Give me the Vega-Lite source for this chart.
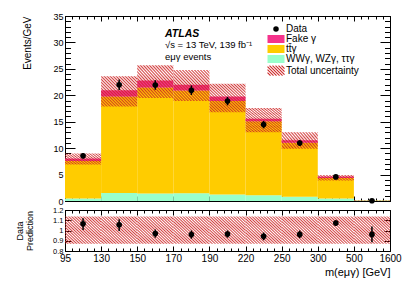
{
  "$schema": "https://vega.github.io/schema/vega-lite/v6.json",
  "padding": {"left": 15, "top": 11, "right": 5, "bottom": 5},
  "background": "white",
  "bounds": "flush",
  "spacing": 9,
  "datasets": {
    "comp": [
      {"bin": 0, "b0": 0, "b1": 1, "comp": "WWγ, WZγ, ττγ", "ord": 1, "val": 0.45},
      {"bin": 1, "b0": 1, "b1": 2, "comp": "WWγ, WZγ, ττγ", "ord": 1, "val": 1.5},
      {"bin": 2, "b0": 2, "b1": 3, "comp": "WWγ, WZγ, ττγ", "ord": 1, "val": 1.4},
      {"bin": 3, "b0": 3, "b1": 4, "comp": "WWγ, WZγ, ττγ", "ord": 1, "val": 1.45},
      {"bin": 4, "b0": 4, "b1": 5, "comp": "WWγ, WZγ, ττγ", "ord": 1, "val": 1.25},
      {"bin": 5, "b0": 5, "b1": 6, "comp": "WWγ, WZγ, ττγ", "ord": 1, "val": 1.1},
      {"bin": 6, "b0": 6, "b1": 7, "comp": "WWγ, WZγ, ττγ", "ord": 1, "val": 0.8},
      {"bin": 7, "b0": 7, "b1": 8, "comp": "WWγ, WZγ, ττγ", "ord": 1, "val": 0.45},
      {"bin": 8, "b0": 8, "b1": 9, "comp": "WWγ, WZγ, ττγ", "ord": 1, "val": 0.08},
      {"bin": 0, "b0": 0, "b1": 1, "comp": "tt̄γ", "ord": 2, "val": 7.1},
      {"bin": 1, "b0": 1, "b1": 2, "comp": "tt̄γ", "ord": 2, "val": 18.25},
      {"bin": 2, "b0": 2, "b1": 3, "comp": "tt̄γ", "ord": 2, "val": 20.05},
      {"bin": 3, "b0": 3, "b1": 4, "comp": "tt̄γ", "ord": 2, "val": 19.45},
      {"bin": 4, "b0": 4, "b1": 5, "comp": "tt̄γ", "ord": 2, "val": 17.65},
      {"bin": 5, "b0": 5, "b1": 6, "comp": "tt̄γ", "ord": 2, "val": 14.0},
      {"bin": 6, "b0": 6, "b1": 7, "comp": "tt̄γ", "ord": 2, "val": 10.2},
      {"bin": 7, "b0": 7, "b1": 8, "comp": "tt̄γ", "ord": 2, "val": 3.9},
      {"bin": 8, "b0": 8, "b1": 9, "comp": "tt̄γ", "ord": 2, "val": 0.05},
      {"bin": 0, "b0": 0, "b1": 1, "comp": "Fake γ", "ord": 3, "val": 0.5},
      {"bin": 1, "b0": 1, "b1": 2, "comp": "Fake γ", "ord": 3, "val": 1.2},
      {"bin": 2, "b0": 2, "b1": 3, "comp": "Fake γ", "ord": 3, "val": 1.35},
      {"bin": 3, "b0": 3, "b1": 4, "comp": "Fake γ", "ord": 3, "val": 1.1},
      {"bin": 4, "b0": 4, "b1": 5, "comp": "Fake γ", "ord": 3, "val": 0.85},
      {"bin": 5, "b0": 5, "b1": 6, "comp": "Fake γ", "ord": 3, "val": 0.45},
      {"bin": 6, "b0": 6, "b1": 7, "comp": "Fake γ", "ord": 3, "val": 0.5},
      {"bin": 7, "b0": 7, "b1": 8, "comp": "Fake γ", "ord": 3, "val": 0.3},
      {"bin": 8, "b0": 8, "b1": 9, "comp": "Fake γ", "ord": 3, "val": 0.02}
    ],
    "bins": [
      {"bin": 0, "b0": 0, "b1": 1, "xc": 0.5, "lo": 6.9, "hi": 9.0, "data": 8.55, "dlo": 8.05, "dhi": 9.05, "ratio": 1.065, "rdlo": 1.005, "rdhi": 1.12, "rlo": 0.87, "rhi": 1.137},
      {"bin": 1, "b0": 1, "b1": 2, "xc": 1.5, "lo": 17.9, "hi": 23.6, "data": 22.0, "dlo": 21.0, "dhi": 23.0, "ratio": 1.055, "rdlo": 0.995, "rdhi": 1.11, "rlo": 0.87, "rhi": 1.137},
      {"bin": 2, "b0": 2, "b1": 3, "xc": 2.5, "lo": 19.5, "hi": 25.7, "data": 21.95, "dlo": 21.05, "dhi": 22.85, "ratio": 0.97, "rdlo": 0.93, "rdhi": 1.01, "rlo": 0.87, "rhi": 1.137},
      {"bin": 3, "b0": 3, "b1": 4, "xc": 3.5, "lo": 18.9, "hi": 24.8, "data": 20.95, "dlo": 20.05, "dhi": 21.85, "ratio": 0.96, "rdlo": 0.92, "rdhi": 1.0, "rlo": 0.87, "rhi": 1.137},
      {"bin": 4, "b0": 4, "b1": 5, "xc": 4.5, "lo": 16.8, "hi": 22.2, "data": 18.9, "dlo": 18.1, "dhi": 19.7, "ratio": 0.965, "rdlo": 0.93, "rdhi": 1.0, "rlo": 0.87, "rhi": 1.137},
      {"bin": 5, "b0": 5, "b1": 6, "xc": 5.5, "lo": 13.0, "hi": 17.6, "data": 14.45, "dlo": 13.75, "dhi": 15.15, "ratio": 0.943, "rdlo": 0.905, "rdhi": 0.98, "rlo": 0.87, "rhi": 1.137},
      {"bin": 6, "b0": 6, "b1": 7, "xc": 6.5, "lo": 9.9, "hi": 13.0, "data": 10.95, "dlo": 10.4, "dhi": 11.5, "ratio": 0.962, "rdlo": 0.925, "rdhi": 1.0, "rlo": 0.87, "rhi": 1.137},
      {"bin": 7, "b0": 7, "b1": 8, "xc": 7.5, "lo": 3.9, "hi": 4.9, "data": 4.55, "dlo": 4.25, "dhi": 4.85, "ratio": 1.073, "rdlo": 1.045, "rdhi": 1.1, "rlo": 0.87, "rhi": 1.137},
      {"bin": 8, "b0": 8, "b1": 9, "xc": 8.5, "lo": 0.11, "hi": 0.17, "data": 0.05, "dlo": 0.0, "dhi": 0.1, "ratio": 0.962, "rdlo": 0.885, "rdhi": 1.04, "rlo": 0.87, "rhi": 1.137}
    ]
  },
  "vconcat": [
    {
      "width": 325,
      "height": 185,
      "title": {
        "text": "ATLAS",
        "subtitle": ["√s = 13 TeV, 139 fb⁻¹", "eμγ events"],
        "anchor": "start", "frame": "group", "orient": "top", "offset": 0,
        "dx": 100, "dy": 49,
        "font": "Liberation Sans", "fontSize": 10.5, "fontStyle": "italic", "fontWeight": "bold", "color": "black",
        "subtitleFont": "Liberation Sans", "subtitleFontSize": 9.5, "subtitleColor": "black",
        "subtitlePadding": 1, "subtitleLineHeight": 11.5
      },
      "layer": [
        {
          "data": {"name": "comp"},
          "transform": [{"stack": "val", "groupby": ["bin"], "sort": [{"field": "ord"}], "as": ["s0", "s1"]}],
          "mark": {"type": "rect", "strokeWidth": 0},
          "encoding": {
            "x": {"field": "b0", "type": "quantitative", "scale": {"domain": [0, 9], "nice": false, "zero": false},
                  "axis": {"orient": "bottom", "values": [0,1,2,3,4,5,6,7,8,9], "labels": false, "title": null, "tickSize": -5}},
            "x2": {"field": "b1"},
            "y": {"field": "s0", "type": "quantitative", "scale": {"domain": [0, 35], "nice": false, "zero": false},
                  "axis": {"orient": "left", "values": [0,5,10,15,20,25,30,35], "format": "d", "ticks": false, "tickSize": 0,
                           "labelFontSize": 9, "labelPadding": 2, "title": "Events/GeV", "titleAnchor": "end",
                           "titleFontSize": 10, "titlePadding": 20}},
            "y2": {"field": "s1"},
            "color": {
              "field": "comp", "type": "nominal",
              "scale": {"domain": ["Data", "Fake γ", "tt̄γ", "WWγ, WZγ, ττγ", "Total uncertainty"],
                        "range": ["#000000", "#f5338c", "#ffcc00", "#99ffcc", "#ffffff"]},
              "legend": {
                "orient": "none", "legendX": 206, "legendY": 8, "title": null,
                "labelFont": "Liberation Sans", "labelFontSize": 10, "labelColor": "black", "labelOffset": 5,
                "labelLimit": 300, "rowPadding": -1.4,
                "symbolSize": 289, "symbolType": "M-1,-0.47H1V0.47H-1Z", "symbolStrokeWidth": 0,
                "encode": {"symbols": {"update": {
                  "shape": {"signal": "datum.value === 'Data' ? 'circle' : datum.value === 'Total uncertainty' ? 'M0.647,-0.59L1,-0.237M0.294,-0.59L1,0.116M-0.059,-0.59L1,0.469M-0.412,-0.59L0.768,0.59M-0.765,-0.59L0.415,0.59M-1,-0.472L0.062,0.59M-1,-0.119L-0.291,0.59M-1,0.234L-0.644,0.59' : 'M-1,-0.47H1V0.47H-1Z'"},
                  "size": {"signal": "datum.value === 'Data' ? 30 : 289"},
                  "stroke": {"value": "#cd2828"},
                  "strokeWidth": {"signal": "datum.value === 'Total uncertainty' ? 1.1 : 0"},
                  "opacity": {"value": 1}
                }}}
              }
            }
          }
        },
        {
          "data": {"name": "bins"},
          "transform": [{"filter": {"field": "bin", "oneOf": [1, 2, 3, 4, 5]}}],
          "mark": {"type": "rect", "strokeWidth": 0, "fill": {"gradient": "linear", "x1": 0, "y1": 1, "x2": 1.0834, "y2": 0.0997, "stops": [
            {"offset": 0, "color": "rgba(205,35,35,0.85)"}, {"offset": 0.0227, "color": "rgba(205,35,35,0)"},
            {"offset": 0.0455, "color": "rgba(205,35,35,0.85)"}, {"offset": 0.0682, "color": "rgba(205,35,35,0)"},
            {"offset": 0.0909, "color": "rgba(205,35,35,0.85)"}, {"offset": 0.1136, "color": "rgba(205,35,35,0)"},
            {"offset": 0.1364, "color": "rgba(205,35,35,0.85)"}, {"offset": 0.1591, "color": "rgba(205,35,35,0)"},
            {"offset": 0.1818, "color": "rgba(205,35,35,0.85)"}, {"offset": 0.2045, "color": "rgba(205,35,35,0)"},
            {"offset": 0.2273, "color": "rgba(205,35,35,0.85)"}, {"offset": 0.25, "color": "rgba(205,35,35,0)"},
            {"offset": 0.2727, "color": "rgba(205,35,35,0.85)"}, {"offset": 0.2955, "color": "rgba(205,35,35,0)"},
            {"offset": 0.3182, "color": "rgba(205,35,35,0.85)"}, {"offset": 0.3409, "color": "rgba(205,35,35,0)"},
            {"offset": 0.3636, "color": "rgba(205,35,35,0.85)"}, {"offset": 0.3864, "color": "rgba(205,35,35,0)"},
            {"offset": 0.4091, "color": "rgba(205,35,35,0.85)"}, {"offset": 0.4318, "color": "rgba(205,35,35,0)"},
            {"offset": 0.4545, "color": "rgba(205,35,35,0.85)"}, {"offset": 0.4773, "color": "rgba(205,35,35,0)"},
            {"offset": 0.5, "color": "rgba(205,35,35,0.85)"}, {"offset": 0.5227, "color": "rgba(205,35,35,0)"},
            {"offset": 0.5455, "color": "rgba(205,35,35,0.85)"}, {"offset": 0.5682, "color": "rgba(205,35,35,0)"},
            {"offset": 0.5909, "color": "rgba(205,35,35,0.85)"}, {"offset": 0.6136, "color": "rgba(205,35,35,0)"},
            {"offset": 0.6364, "color": "rgba(205,35,35,0.85)"}, {"offset": 0.6591, "color": "rgba(205,35,35,0)"},
            {"offset": 0.6818, "color": "rgba(205,35,35,0.85)"}, {"offset": 0.7045, "color": "rgba(205,35,35,0)"},
            {"offset": 0.7273, "color": "rgba(205,35,35,0.85)"}, {"offset": 0.75, "color": "rgba(205,35,35,0)"},
            {"offset": 0.7727, "color": "rgba(205,35,35,0.85)"}, {"offset": 0.7955, "color": "rgba(205,35,35,0)"},
            {"offset": 0.8182, "color": "rgba(205,35,35,0.85)"}, {"offset": 0.8409, "color": "rgba(205,35,35,0)"},
            {"offset": 0.8636, "color": "rgba(205,35,35,0.85)"}, {"offset": 0.8864, "color": "rgba(205,35,35,0)"},
            {"offset": 0.9091, "color": "rgba(205,35,35,0.85)"}, {"offset": 0.9318, "color": "rgba(205,35,35,0)"},
            {"offset": 0.9545, "color": "rgba(205,35,35,0.85)"}, {"offset": 0.9773, "color": "rgba(205,35,35,0)"},
            {"offset": 1, "color": "rgba(205,35,35,0.85)"}]}},
          "encoding": {
            "x": {"field": "b0", "type": "quantitative",
                  "axis": {"orient": "bottom", "values": [0,0.2,0.4,0.6,0.8,1,1.2,1.4,1.6,1.8,2,2.2,2.4,2.6,2.8,3,3.2,3.4,3.6,3.8,4,4.2,4.4,4.6,4.8,5,5.2,5.4,5.6,5.8,6,6.2,6.4,6.6,6.8,7,7.2,7.4,7.6,7.8,8,8.2,8.4,8.6,8.8,9], "labels": false, "title": null, "tickSize": -3}},
            "x2": {"field": "b1"},
            "y": {"field": "lo", "type": "quantitative",
                  "axis": {"orient": "left", "values": [0,5,10,15,20,25,30,35], "labels": false, "title": null, "tickSize": -10}},
            "y2": {"field": "hi"}
          }
        },
        {
          "data": {"name": "bins"},
          "transform": [{"filter": {"field": "bin", "oneOf": [0, 6]}}],
          "mark": {"type": "rect", "strokeWidth": 0, "fill": {"gradient": "linear", "x1": 0, "y1": 1, "x2": 1.2065, "y2": 0.532, "stops": [
            {"offset": 0, "color": "rgba(205,35,35,0.85)"}, {"offset": 0.0294, "color": "rgba(205,35,35,0)"},
            {"offset": 0.0588, "color": "rgba(205,35,35,0.85)"}, {"offset": 0.0882, "color": "rgba(205,35,35,0)"},
            {"offset": 0.1176, "color": "rgba(205,35,35,0.85)"}, {"offset": 0.1471, "color": "rgba(205,35,35,0)"},
            {"offset": 0.1765, "color": "rgba(205,35,35,0.85)"}, {"offset": 0.2059, "color": "rgba(205,35,35,0)"},
            {"offset": 0.2353, "color": "rgba(205,35,35,0.85)"}, {"offset": 0.2647, "color": "rgba(205,35,35,0)"},
            {"offset": 0.2941, "color": "rgba(205,35,35,0.85)"}, {"offset": 0.3235, "color": "rgba(205,35,35,0)"},
            {"offset": 0.3529, "color": "rgba(205,35,35,0.85)"}, {"offset": 0.3824, "color": "rgba(205,35,35,0)"},
            {"offset": 0.4118, "color": "rgba(205,35,35,0.85)"}, {"offset": 0.4412, "color": "rgba(205,35,35,0)"},
            {"offset": 0.4706, "color": "rgba(205,35,35,0.85)"}, {"offset": 0.5, "color": "rgba(205,35,35,0)"},
            {"offset": 0.5294, "color": "rgba(205,35,35,0.85)"}, {"offset": 0.5588, "color": "rgba(205,35,35,0)"},
            {"offset": 0.5882, "color": "rgba(205,35,35,0.85)"}, {"offset": 0.6176, "color": "rgba(205,35,35,0)"},
            {"offset": 0.6471, "color": "rgba(205,35,35,0.85)"}, {"offset": 0.6765, "color": "rgba(205,35,35,0)"},
            {"offset": 0.7059, "color": "rgba(205,35,35,0.85)"}, {"offset": 0.7353, "color": "rgba(205,35,35,0)"},
            {"offset": 0.7647, "color": "rgba(205,35,35,0.85)"}, {"offset": 0.7941, "color": "rgba(205,35,35,0)"},
            {"offset": 0.8235, "color": "rgba(205,35,35,0.85)"}, {"offset": 0.8529, "color": "rgba(205,35,35,0)"},
            {"offset": 0.8824, "color": "rgba(205,35,35,0.85)"}, {"offset": 0.9118, "color": "rgba(205,35,35,0)"},
            {"offset": 0.9412, "color": "rgba(205,35,35,0.85)"}, {"offset": 0.9706, "color": "rgba(205,35,35,0)"},
            {"offset": 1, "color": "rgba(205,35,35,0.85)"}]}},
          "encoding": {
            "x": {"field": "b0", "type": "quantitative",
                  "axis": {"orient": "top", "values": [0,1,2,3,4,5,6,7,8,9], "labels": false, "title": null, "tickSize": -5}},
            "x2": {"field": "b1"},
            "y": {"field": "lo", "type": "quantitative",
                  "axis": {"orient": "left", "values": [0,1,2,3,4,5,6,7,8,9,10,11,12,13,14,15,16,17,18,19,20,21,22,23,24,25,26,27,28,29,30,31,32,33,34,35], "labels": false, "title": null, "tickSize": -5.5}},
            "y2": {"field": "hi"}
          }
        },
        {
          "data": {"name": "bins"},
          "transform": [{"filter": {"field": "bin", "oneOf": [7, 8]}}],
          "mark": {"type": "rect", "strokeWidth": 0, "fill": {"gradient": "linear", "x1": 0, "y1": 1, "x2": 1.1447, "y2": 0.79, "stops": [
            {"offset": 0, "color": "rgba(205,35,35,0.85)"}, {"offset": 0.0357, "color": "rgba(205,35,35,0)"},
            {"offset": 0.0714, "color": "rgba(205,35,35,0.85)"}, {"offset": 0.1071, "color": "rgba(205,35,35,0)"},
            {"offset": 0.1429, "color": "rgba(205,35,35,0.85)"}, {"offset": 0.1786, "color": "rgba(205,35,35,0)"},
            {"offset": 0.2143, "color": "rgba(205,35,35,0.85)"}, {"offset": 0.25, "color": "rgba(205,35,35,0)"},
            {"offset": 0.2857, "color": "rgba(205,35,35,0.85)"}, {"offset": 0.3214, "color": "rgba(205,35,35,0)"},
            {"offset": 0.3571, "color": "rgba(205,35,35,0.85)"}, {"offset": 0.3929, "color": "rgba(205,35,35,0)"},
            {"offset": 0.4286, "color": "rgba(205,35,35,0.85)"}, {"offset": 0.4643, "color": "rgba(205,35,35,0)"},
            {"offset": 0.5, "color": "rgba(205,35,35,0.85)"}, {"offset": 0.5357, "color": "rgba(205,35,35,0)"},
            {"offset": 0.5714, "color": "rgba(205,35,35,0.85)"}, {"offset": 0.6071, "color": "rgba(205,35,35,0)"},
            {"offset": 0.6429, "color": "rgba(205,35,35,0.85)"}, {"offset": 0.6786, "color": "rgba(205,35,35,0)"},
            {"offset": 0.7143, "color": "rgba(205,35,35,0.85)"}, {"offset": 0.75, "color": "rgba(205,35,35,0)"},
            {"offset": 0.7857, "color": "rgba(205,35,35,0.85)"}, {"offset": 0.8214, "color": "rgba(205,35,35,0)"},
            {"offset": 0.8571, "color": "rgba(205,35,35,0.85)"}, {"offset": 0.8929, "color": "rgba(205,35,35,0)"},
            {"offset": 0.9286, "color": "rgba(205,35,35,0.85)"}, {"offset": 0.9643, "color": "rgba(205,35,35,0)"},
            {"offset": 1, "color": "rgba(205,35,35,0.85)"}]}},
          "encoding": {
            "x": {"field": "b0", "type": "quantitative",
                  "axis": {"orient": "top", "values": [0,0.2,0.4,0.6,0.8,1,1.2,1.4,1.6,1.8,2,2.2,2.4,2.6,2.8,3,3.2,3.4,3.6,3.8,4,4.2,4.4,4.6,4.8,5,5.2,5.4,5.6,5.8,6,6.2,6.4,6.6,6.8,7,7.2,7.4,7.6,7.8,8,8.2,8.4,8.6,8.8,9], "labels": false, "title": null, "tickSize": -3}},
            "x2": {"field": "b1"},
            "y": {"field": "lo", "type": "quantitative",
                  "axis": {"orient": "right", "values": [0,5,10,15,20,25,30,35], "labels": false, "title": null, "tickSize": -10}},
            "y2": {"field": "hi"}
          }
        },
        {
          "data": {"name": "bins"},
          "mark": {"type": "rule", "strokeWidth": 1.5, "color": "black"},
          "encoding": {
            "x": {"field": "xc", "type": "quantitative", "axis": null},
            "y": {"field": "dlo", "type": "quantitative",
                  "axis": {"orient": "right", "values": [0,1,2,3,4,5,6,7,8,9,10,11,12,13,14,15,16,17,18,19,20,21,22,23,24,25,26,27,28,29,30,31,32,33,34,35], "labels": false, "title": null, "tickSize": -5.5}},
            "y2": {"field": "dhi"}
          }
        },
        {
          "data": {"name": "bins"},
          "mark": {"type": "point", "shape": "circle", "filled": true, "size": 32, "color": "black", "opacity": 1},
          "encoding": {
            "x": {"field": "xc", "type": "quantitative", "axis": null},
            "y": {"field": "data", "type": "quantitative", "axis": null}
          }
        }
      ],
      "resolve": {"axis": {"x": "independent", "y": "independent"}}
    },
    {
      "width": 325,
      "height": 41,
      "layer": [
        {
          "data": {"name": "bins"},
          "mark": {"type": "rect", "strokeWidth": 0, "fill": {"gradient": "linear", "x1": 0, "y1": 1, "x2": 1.0976, "y2": 0.122, "stops": [
            {"offset": 0, "color": "rgba(205,35,35,0.85)"}, {"offset": 0.0227, "color": "rgba(205,35,35,0)"},
            {"offset": 0.0455, "color": "rgba(205,35,35,0.85)"}, {"offset": 0.0682, "color": "rgba(205,35,35,0)"},
            {"offset": 0.0909, "color": "rgba(205,35,35,0.85)"}, {"offset": 0.1136, "color": "rgba(205,35,35,0)"},
            {"offset": 0.1364, "color": "rgba(205,35,35,0.85)"}, {"offset": 0.1591, "color": "rgba(205,35,35,0)"},
            {"offset": 0.1818, "color": "rgba(205,35,35,0.85)"}, {"offset": 0.2045, "color": "rgba(205,35,35,0)"},
            {"offset": 0.2273, "color": "rgba(205,35,35,0.85)"}, {"offset": 0.25, "color": "rgba(205,35,35,0)"},
            {"offset": 0.2727, "color": "rgba(205,35,35,0.85)"}, {"offset": 0.2955, "color": "rgba(205,35,35,0)"},
            {"offset": 0.3182, "color": "rgba(205,35,35,0.85)"}, {"offset": 0.3409, "color": "rgba(205,35,35,0)"},
            {"offset": 0.3636, "color": "rgba(205,35,35,0.85)"}, {"offset": 0.3864, "color": "rgba(205,35,35,0)"},
            {"offset": 0.4091, "color": "rgba(205,35,35,0.85)"}, {"offset": 0.4318, "color": "rgba(205,35,35,0)"},
            {"offset": 0.4545, "color": "rgba(205,35,35,0.85)"}, {"offset": 0.4773, "color": "rgba(205,35,35,0)"},
            {"offset": 0.5, "color": "rgba(205,35,35,0.85)"}, {"offset": 0.5227, "color": "rgba(205,35,35,0)"},
            {"offset": 0.5455, "color": "rgba(205,35,35,0.85)"}, {"offset": 0.5682, "color": "rgba(205,35,35,0)"},
            {"offset": 0.5909, "color": "rgba(205,35,35,0.85)"}, {"offset": 0.6136, "color": "rgba(205,35,35,0)"},
            {"offset": 0.6364, "color": "rgba(205,35,35,0.85)"}, {"offset": 0.6591, "color": "rgba(205,35,35,0)"},
            {"offset": 0.6818, "color": "rgba(205,35,35,0.85)"}, {"offset": 0.7045, "color": "rgba(205,35,35,0)"},
            {"offset": 0.7273, "color": "rgba(205,35,35,0.85)"}, {"offset": 0.75, "color": "rgba(205,35,35,0)"},
            {"offset": 0.7727, "color": "rgba(205,35,35,0.85)"}, {"offset": 0.7955, "color": "rgba(205,35,35,0)"},
            {"offset": 0.8182, "color": "rgba(205,35,35,0.85)"}, {"offset": 0.8409, "color": "rgba(205,35,35,0)"},
            {"offset": 0.8636, "color": "rgba(205,35,35,0.85)"}, {"offset": 0.8864, "color": "rgba(205,35,35,0)"},
            {"offset": 0.9091, "color": "rgba(205,35,35,0.85)"}, {"offset": 0.9318, "color": "rgba(205,35,35,0)"},
            {"offset": 0.9545, "color": "rgba(205,35,35,0.85)"}, {"offset": 0.9773, "color": "rgba(205,35,35,0)"},
            {"offset": 1, "color": "rgba(205,35,35,0.85)"}]}},
          "encoding": {
            "x": {"field": "b0", "type": "quantitative", "scale": {"domain": [0, 9], "nice": false, "zero": false},
                  "axis": {"orient": "bottom", "values": [0,1,2,3,4,5,6,7,8,9], "ticks": false, "tickSize": 0,
                           "labelExpr": "['95','130','150','170','190','220','250','300','500','1600'][datum.value]",
                           "labelFlush": false, "labelOverlap": false, "labelBound": false,
                           "labelFontSize": 10, "labelPadding": 2,
                           "title": "m(eμγ) [GeV]", "titleAnchor": "end", "titleFontSize": 11, "titlePadding": 3}},
            "x2": {"field": "b1"},
            "y": {"field": "rlo", "type": "quantitative", "scale": {"domain": [0.8, 1.2], "nice": false, "zero": false},
                  "axis": {"orient": "left", "values": [0.8, 0.9, 1, 1.1, 1.2], "format": "~g", "ticks": false, "tickSize": 0,
                           "labelFontSize": 7.5, "labelPadding": 2, "labelOverlap": false,
                           "title": ["Data", "Prediction"], "titleFontSize": 9, "titleLineHeight": 10, "titlePadding": 18}},
            "y2": {"field": "rhi"}
          }
        },
        {
          "mark": {"type": "rule", "strokeDash": [3, 2], "strokeWidth": 1, "color": "black"},
          "encoding": {
            "y": {"datum": 1, "type": "quantitative",
                  "axis": {"orient": "left", "values": [0.8, 0.9, 1, 1.1, 1.2], "labels": false, "title": null, "tickSize": -6}}
          }
        },
        {
          "data": {"name": "bins"},
          "mark": {"type": "rule", "strokeWidth": 1.5, "color": "black"},
          "encoding": {
            "x": {"field": "xc", "type": "quantitative",
                  "axis": {"orient": "bottom", "values": [0,1,2,3,4,5,6,7,8,9], "labels": false, "title": null, "tickSize": -5}},
            "y": {"field": "rdlo", "type": "quantitative",
                  "axis": {"orient": "right", "values": [0.8, 0.9, 1, 1.1, 1.2], "labels": false, "title": null, "tickSize": -6}},
            "y2": {"field": "rdhi"}
          }
        },
        {
          "data": {"name": "bins"},
          "mark": {"type": "point", "shape": "circle", "filled": true, "size": 32, "color": "black", "opacity": 1},
          "encoding": {
            "x": {"field": "xc", "type": "quantitative",
                  "axis": {"orient": "bottom", "values": [0,0.2,0.4,0.6,0.8,1,1.2,1.4,1.6,1.8,2,2.2,2.4,2.6,2.8,3,3.2,3.4,3.6,3.8,4,4.2,4.4,4.6,4.8,5,5.2,5.4,5.6,5.8,6,6.2,6.4,6.6,6.8,7,7.2,7.4,7.6,7.8,8,8.2,8.4,8.6,8.8,9], "labels": false, "title": null, "tickSize": -3}},
            "y": {"field": "ratio", "type": "quantitative", "axis": null}
          }
        },
        {
          "data": {"name": "bins"},
          "mark": {"type": "point", "opacity": 0},
          "encoding": {
            "x": {"field": "xc", "type": "quantitative",
                  "axis": {"orient": "top", "values": [0,1,2,3,4,5,6,7,8,9], "labels": false, "title": null, "tickSize": -5}},
            "y": {"field": "ratio", "type": "quantitative", "axis": null}
          }
        },
        {
          "data": {"name": "bins"},
          "mark": {"type": "point", "opacity": 0},
          "encoding": {
            "x": {"field": "xc", "type": "quantitative",
                  "axis": {"orient": "top", "values": [0,0.2,0.4,0.6,0.8,1,1.2,1.4,1.6,1.8,2,2.2,2.4,2.6,2.8,3,3.2,3.4,3.6,3.8,4,4.2,4.4,4.6,4.8,5,5.2,5.4,5.6,5.8,6,6.2,6.4,6.6,6.8,7,7.2,7.4,7.6,7.8,8,8.2,8.4,8.6,8.8,9], "labels": false, "title": null, "tickSize": -3}},
            "y": {"field": "ratio", "type": "quantitative", "axis": null}
          }
        }
      ],
      "resolve": {"axis": {"x": "independent", "y": "independent"}}
    }
  ],
  "config": {
    "font": "Liberation Sans",
    "view": {"stroke": "black", "strokeWidth": 1},
    "axis": {"labelColor": "black", "titleColor": "black", "tickColor": "black", "tickWidth": 1,
             "domain": false, "grid": false, "titleFontWeight": "normal", "labelFont": "Liberation Sans", "titleFont": "Liberation Sans"}
  }
}
